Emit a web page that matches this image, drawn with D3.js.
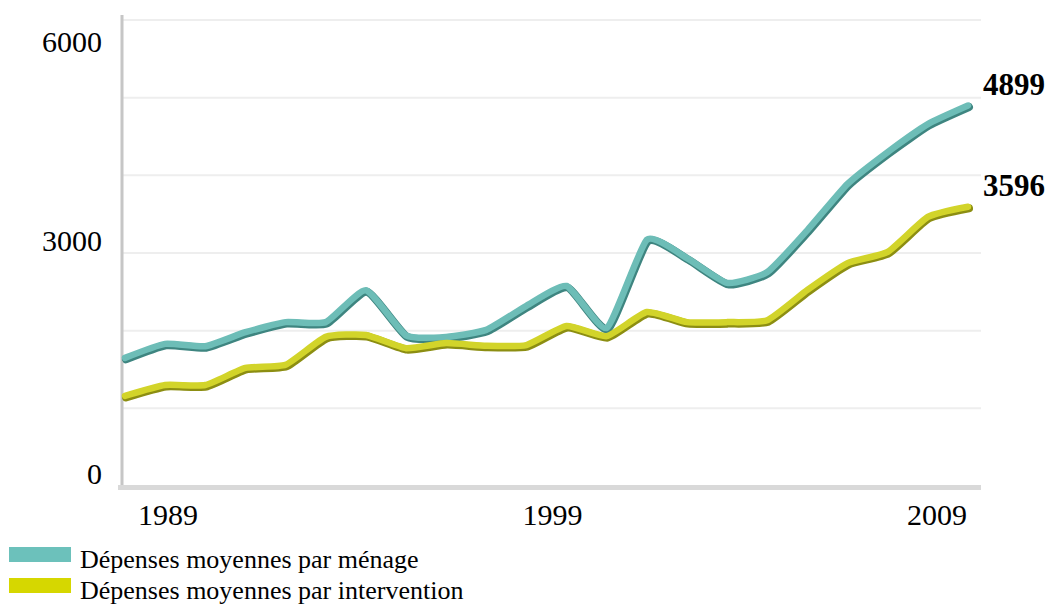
<!DOCTYPE html>
<html>
<head>
<meta charset="utf-8">
<script src="https://cdn.jsdelivr.net/npm/d3@7"></script>
<style>
  body { margin: 0; background: #fff; }
  svg { display: block; }
  text { font-family: "Liberation Serif", "Times New Roman", serif; fill: #000; }
</style>
</head>
<body>
<div id="chart"></div>
<script>
// data
var years = [1988, 1989, 1990, 1991, 1992, 1993, 1994, 1995, 1996, 1997, 1998,
             1999, 2000, 2001, 2002, 2003, 2004, 2005, 2006, 2007, 2008, 2009];
var menage = [1650, 1830, 1800, 1980, 2110, 2110, 2520, 1940, 1920, 2010, 2320,
              2575, 2035, 3170, 2935, 2615, 2755, 3295, 3890, 4300, 4660, 4899];
var intervention = [1160, 1300, 1300, 1520, 1560, 1920, 1945, 1775, 1840, 1805, 1815,
                    2060, 1930, 2240, 2110, 2110, 2135, 2525, 2870, 3015, 3465, 3596];
var yTicks = [0, 3000, 6000];
var gridTicks = [0, 1000, 2000, 3000, 4000, 5000, 6000];
var xTickLabels = [1989, 1999, 2009];
var seriesNames = ["Dépenses moyennes par ménage", "Dépenses moyennes par intervention"];

var W = 1049, H = 605;
var plotLeft = 122, plotRight = 968, plotTop = 20, plotBottom = 486;

var svg = d3.select("#chart").append("svg")
    .attr("width", W)
    .attr("height", H);

var x = d3.scaleLinear().domain([years[0], years[years.length - 1]]).range([125, plotRight]);
// the category labels in the source are spread a bit differently from the points
var xLab = d3.scaleLinear().domain([1989, 2009]).range([168, 937]);
var y = d3.scaleLinear().domain([0, 6000]).range([plotBottom, plotTop]);

// gridlines
svg.append("g")
    .selectAll("line")
    .data(gridTicks.slice(1))
    .enter()
    .append("line")
    .attr("x1", plotLeft)
    .attr("x2", 981)
    .attr("y1", function (d) { return y(d); })
    .attr("y2", function (d) { return y(d); })
    .attr("stroke", "#eeeeee")
    .attr("stroke-width", 2);

// axes lines
svg.append("line")
    .attr("x1", plotLeft).attr("x2", plotLeft)
    .attr("y1", 15).attr("y2", 490)
    .attr("stroke", "#c6c6c6")
    .attr("stroke-width", 3);
svg.append("line")
    .attr("x1", 118).attr("x2", 981)
    .attr("y1", y(0) + 1.5).attr("y2", y(0) + 1.5)
    .attr("stroke", "#d9d9d9")
    .attr("stroke-width", 5);

// y tick labels
svg.append("g")
    .selectAll("text")
    .data(yTicks)
    .enter()
    .append("text")
    .attr("x", 102)
    .attr("y", function (d) { return Math.max(y(d) - 2, plotTop + 32); })
    .attr("text-anchor", "end")
    .style("font-size", "30px")
    .text(function (d) { return d; });

// x tick labels
svg.append("g")
    .selectAll("text")
    .data(xTickLabels)
    .enter()
    .append("text")
    .attr("x", function (d) { return xLab(d); })
    .attr("y", 525)
    .attr("text-anchor", "middle")
    .style("font-size", "30px")
    .text(function (d) { return d; });

var series = [
    { name: seriesNames[0], values: menage, color: "#6dbdb7", shade: "#3e8580" },
    { name: seriesNames[1], values: intervention, color: "#d2d42a", shade: "#8c8e12" }
];

var line = d3.line()
    .x(function (d, i) { return x(years[i]); })
    .y(function (d) { return y(d); })
    .curve(d3.curveCardinal.tension(0.5));

var lines = svg.append("g");
series.forEach(function (s) {
    lines.append("path")
        .attr("d", line(s.values))
        .attr("fill", "none")
        .attr("stroke", s.shade)
        .attr("stroke-width", 8)
        .attr("stroke-linejoin", "round")
        .attr("stroke-linecap", "round")
        .attr("transform", "translate(1,1.5)");
    lines.append("path")
        .attr("d", line(s.values))
        .attr("fill", "none")
        .attr("stroke", s.color)
        .attr("stroke-width", 6.5)
        .attr("stroke-linejoin", "round")
        .attr("stroke-linecap", "round");
});

// end value labels
svg.append("g")
    .selectAll("text")
    .data(series)
    .enter()
    .append("text")
    .attr("x", plotRight + 15)
    .attr("y", function (d) { return y(d.values[d.values.length - 1]) - 11; })
    .style("font-size", "31px")
    .style("font-weight", "bold")
    .text(function (d) { return d.values[d.values.length - 1]; });

// legend
var legend = svg.append("g")
    .selectAll("g")
    .data(series)
    .enter()
    .append("g")
    .attr("transform", function (d, i) { return "translate(9," + (547 + i * 31) + ")"; });
legend.append("rect")
    .attr("width", 62)
    .attr("height", 15)
    .attr("fill", function (d, i) { return i === 0 ? "#6cc1bb" : "#d6d700"; });
legend.append("text")
    .attr("x", 71)
    .attr("y", 21)
    .style("font-size", "26px")
    .text(function (d) { return d.name; });
</script>
</body>
</html>
